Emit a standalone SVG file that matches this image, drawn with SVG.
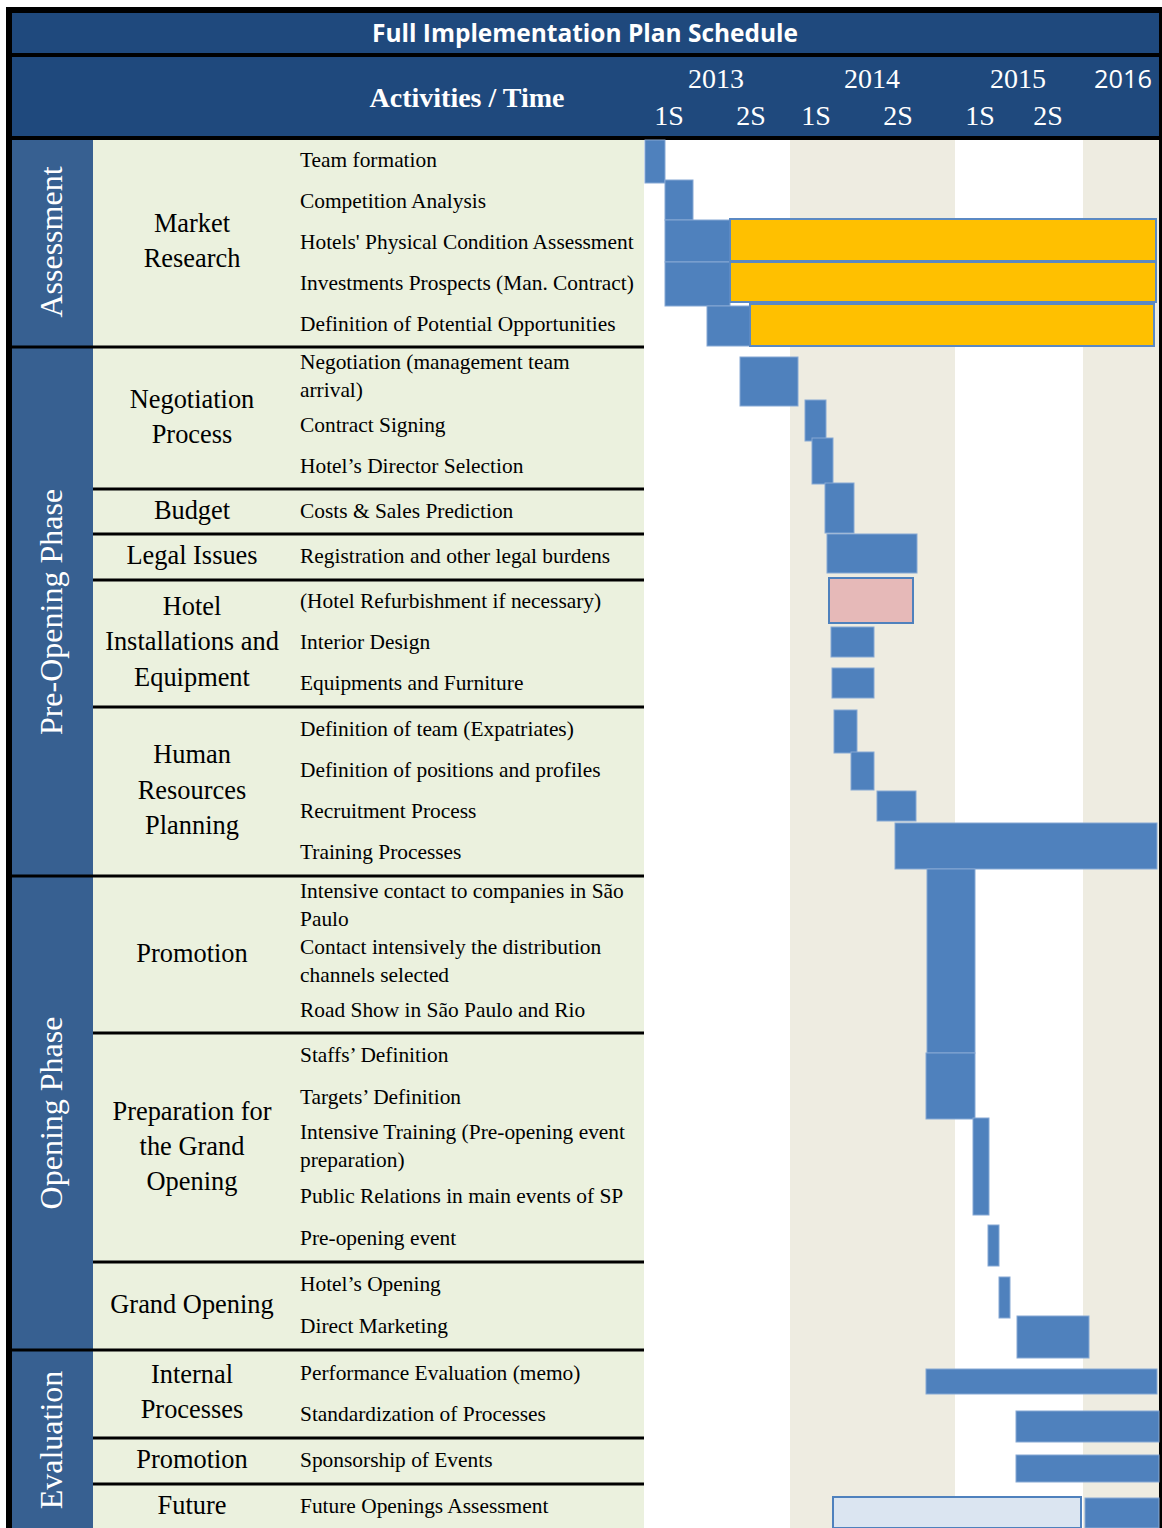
<svg xmlns="http://www.w3.org/2000/svg" width="1162" height="1528" viewBox="0 0 1162 1528">
<style>
.hdr{fill:#1f497d}
.phase{fill:#376091}
.grn{fill:#ebf1de}
.beige{fill:#eeece1}
.sep{fill:#000}
.pt{font-family:"Liberation Serif","Times New Roman",serif;font-size:32px;fill:#fff;text-anchor:middle}
.ct{font-family:"Liberation Serif","Times New Roman",serif;font-size:26.4px;fill:#000;text-anchor:middle}
.at{font-family:"Liberation Serif","Times New Roman",serif;font-size:21.4px;fill:#000}
.ht{font-family:"Liberation Serif","Times New Roman",serif;font-size:28px;fill:#fff;text-anchor:middle}
.bar{fill:#4f81bd;stroke:#86a8d4;stroke-width:1}
.org{fill:#ffc000;stroke:#5b89c3;stroke-width:2}
.pink{fill:#e6b9b8;stroke:#4f81bd;stroke-width:2}
.lb{fill:#dbe5f1;stroke:#4f81bd;stroke-width:2}
</style>
<rect x="0" y="0" width="1162" height="1528" fill="#fff"/>
<rect x="6" y="7" width="1156" height="1521" fill="#000"/>
<g id="title">
<rect class="hdr" x="12" y="13" width="1147" height="40"/>
<text x="585" y="42" font-family="'Open Sans','Liberation Sans',sans-serif" font-weight="bold" font-size="25" fill="#fff" text-anchor="middle" textLength="426" lengthAdjust="spacingAndGlyphs">Full Implementation Plan Schedule</text>
</g>
<g id="header">
<rect class="hdr" x="12" y="57" width="1147" height="79"/>
<text class="ht" x="467" y="107" font-weight="bold" font-size="30">Activities / Time</text>
<text class="ht" x="716" y="88">2013</text>
<text class="ht" x="872" y="88">2014</text>
<text class="ht" x="1018" y="88">2015</text>
<text x="1123" y="88" font-family="'Open Sans','Liberation Sans',sans-serif" font-size="26" fill="#fff" text-anchor="middle" textLength="58" lengthAdjust="spacingAndGlyphs">2016</text>
<text class="ht" x="669" y="125">1S</text>
<text class="ht" x="751" y="125">2S</text>
<text class="ht" x="816" y="125">1S</text>
<text class="ht" x="898" y="125">2S</text>
<text class="ht" x="980" y="125">1S</text>
<text class="ht" x="1048" y="125">2S</text>
</g>
<g id="body-bg">
<rect class="phase" x="12" y="140" width="81" height="1388"/>
<rect class="grn" x="93" y="140" width="551" height="1388"/>
<rect x="644" y="140" width="515" height="1388" fill="#fff"/>
<rect class="beige" x="790" y="140" width="165" height="1388"/>
<rect class="beige" x="1083" y="140" width="76" height="1388"/>
</g>
<g id="separators">
<rect class="sep" x="12" y="345.5" width="632" height="3"/>
<rect class="sep" x="93" y="487.5" width="551" height="3"/>
<rect class="sep" x="93" y="532.5" width="551" height="3"/>
<rect class="sep" x="93" y="578.5" width="551" height="3"/>
<rect class="sep" x="93" y="705.5" width="551" height="3"/>
<rect class="sep" x="12" y="874.5" width="632" height="3"/>
<rect class="sep" x="93" y="1031.5" width="551" height="3"/>
<rect class="sep" x="93" y="1260.5" width="551" height="3"/>
<rect class="sep" x="12" y="1348.5" width="632" height="3"/>
<rect class="sep" x="93" y="1436.5" width="551" height="3"/>
<rect class="sep" x="93" y="1482.5" width="551" height="3"/>
</g>
<g id="phases">
<text id="ph-assessment" class="pt" transform="translate(62,242) rotate(-90)">Assessment</text>
<text id="ph-preopening" class="pt" transform="translate(62,612) rotate(-90)">Pre-Opening Phase</text>
<text id="ph-opening" class="pt" transform="translate(62,1113) rotate(-90)">Opening Phase</text>
<text id="ph-evaluation" class="pt" transform="translate(62,1440) rotate(-90)">Evaluation</text>
</g>
<g id="categories">
<text class="ct" x="192" y="232">Market</text>
<text class="ct" x="192" y="267">Research</text>
<text class="ct" x="192" y="408">Negotiation</text>
<text class="ct" x="192" y="443">Process</text>
<text class="ct" x="192" y="519">Budget</text>
<text class="ct" x="192" y="564">Legal Issues</text>
<text class="ct" x="192" y="615">Hotel</text>
<text class="ct" x="192" y="650">Installations and</text>
<text class="ct" x="192" y="686">Equipment</text>
<text class="ct" x="192" y="763">Human</text>
<text class="ct" x="192" y="799">Resources</text>
<text class="ct" x="192" y="834">Planning</text>
<text class="ct" x="192" y="962">Promotion</text>
<text class="ct" x="192" y="1120">Preparation for</text>
<text class="ct" x="192" y="1155">the Grand</text>
<text class="ct" x="192" y="1190">Opening</text>
<text class="ct" x="192" y="1313">Grand Opening</text>
<text class="ct" x="192" y="1383">Internal</text>
<text class="ct" x="192" y="1418">Processes</text>
<text class="ct" x="192" y="1468">Promotion</text>
<text class="ct" x="192" y="1514">Future</text>
</g>
<g id="activities">
<text class="at" x="300" y="167">Team formation</text>
<text class="at" x="300" y="208">Competition Analysis</text>
<text class="at" x="300" y="249">Hotels' Physical Condition Assessment</text>
<text class="at" x="300" y="290">Investments Prospects (Man. Contract)</text>
<text class="at" x="300" y="331">Definition of Potential Opportunities</text>
<text class="at" x="300" y="369">Negotiation (management team</text>
<text class="at" x="300" y="397">arrival)</text>
<text class="at" x="300" y="432">Contract Signing</text>
<text class="at" x="300" y="473">Hotel’s Director Selection</text>
<text class="at" x="300" y="518">Costs &amp; Sales Prediction</text>
<text class="at" x="300" y="563">Registration and other legal burdens</text>
<text class="at" x="300" y="608">(Hotel Refurbishment if necessary)</text>
<text class="at" x="300" y="649">Interior Design</text>
<text class="at" x="300" y="690">Equipments and Furniture</text>
<text class="at" x="300" y="736">Definition of team (Expatriates)</text>
<text class="at" x="300" y="777">Definition of positions and profiles</text>
<text class="at" x="300" y="818">Recruitment Process</text>
<text class="at" x="300" y="859">Training Processes</text>
<text class="at" x="300" y="898">Intensive contact to companies in São</text>
<text class="at" x="300" y="926">Paulo</text>
<text class="at" x="300" y="954">Contact intensively the distribution</text>
<text class="at" x="300" y="982">channels selected</text>
<text class="at" x="300" y="1017">Road Show in São Paulo and Rio</text>
<text class="at" x="300" y="1062">Staffs’ Definition</text>
<text class="at" x="300" y="1104">Targets’ Definition</text>
<text class="at" x="300" y="1139">Intensive Training (Pre-opening event</text>
<text class="at" x="300" y="1167">preparation)</text>
<text class="at" x="300" y="1203">Public Relations in main events of SP</text>
<text class="at" x="300" y="1245">Pre-opening event</text>
<text class="at" x="300" y="1291">Hotel’s Opening</text>
<text class="at" x="300" y="1333">Direct Marketing</text>
<text class="at" x="300" y="1380">Performance Evaluation (memo)</text>
<text class="at" x="300" y="1421">Standardization of Processes</text>
<text class="at" x="300" y="1467">Sponsorship of Events</text>
<text class="at" x="300" y="1513">Future Openings Assessment</text>
</g>
<g id="bars">
<rect class="bar" x="645" y="140" width="20" height="43"/>
<rect class="bar" x="665" y="180" width="28" height="40"/>
<rect class="bar" x="665" y="220" width="65" height="42"/>
<rect class="bar" x="665" y="262" width="65" height="44"/>
<rect class="bar" x="707" y="306" width="43" height="40"/>
<rect class="org" x="730" y="219" width="426" height="42"/>
<rect class="org" x="730" y="262" width="426" height="40"/>
<rect class="org" x="750" y="304" width="404" height="42"/>
<rect class="bar" x="740" y="357" width="58" height="49"/>
<rect class="bar" x="805" y="400" width="21" height="41"/>
<rect class="bar" x="812" y="438" width="21" height="46"/>
<rect class="bar" x="825" y="483" width="29" height="50"/>
<rect class="bar" x="827" y="534" width="90" height="39"/>
<rect class="pink" x="829" y="578" width="84" height="45"/>
<rect class="bar" x="831" y="627" width="43" height="30"/>
<rect class="bar" x="832" y="668" width="42" height="30"/>
<rect class="bar" x="834" y="710" width="23" height="43"/>
<rect class="bar" x="851" y="752" width="23" height="38"/>
<rect class="bar" x="877" y="791" width="39" height="30"/>
<rect class="bar" x="895" y="823" width="262" height="46"/>
<rect class="bar" x="927" y="869" width="48" height="184"/>
<rect class="bar" x="926" y="1053" width="49" height="66"/>
<rect class="bar" x="973" y="1118" width="16" height="97"/>
<rect class="bar" x="988" y="1225" width="11" height="41"/>
<rect class="bar" x="999" y="1277" width="11" height="41"/>
<rect class="bar" x="1017" y="1316" width="72" height="42"/>
<rect class="bar" x="926" y="1369" width="231" height="25"/>
<rect class="bar" x="1016" y="1411" width="143" height="31"/>
<rect class="bar" x="1016" y="1455" width="143" height="27"/>
<rect class="lb" x="833" y="1497" width="248" height="31"/>
<rect class="bar" x="1085" y="1498" width="74" height="30"/>
</g>
</svg>
